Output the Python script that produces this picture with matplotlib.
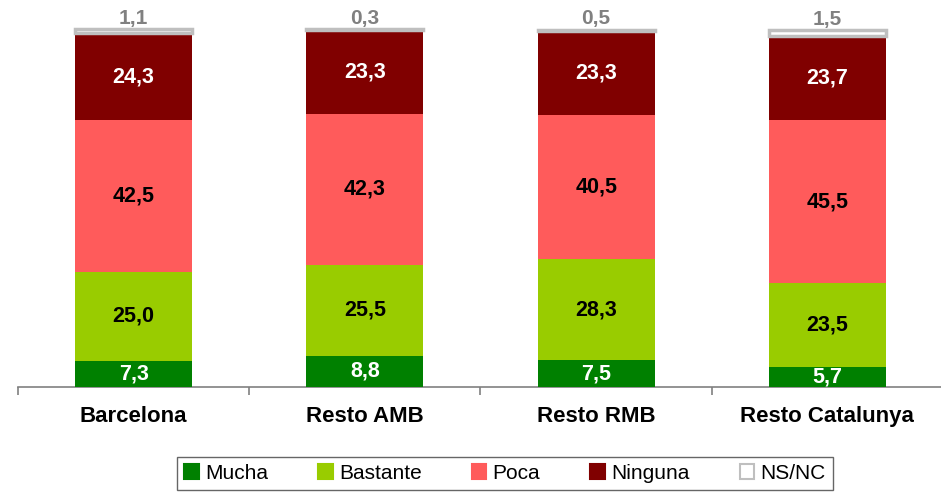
import matplotlib
matplotlib.use("Agg")
import matplotlib.pyplot as plt
from matplotlib.patches import Patch
import numpy as np

plt.rcParams['font.family'] = ['Liberation Sans', 'DejaVu Sans']

categories = ["Barcelona", "Resto AMB", "Resto RMB", "Resto Catalunya"]
series_names = ["Mucha", "Bastante", "Poca", "Ninguna", "NS/NC"]
mucha = [7.3, 8.8, 7.5, 5.7]
bastante = [25.0, 25.5, 28.3, 23.5]
poca = [42.5, 42.3, 40.5, 45.5]
ninguna = [24.3, 23.3, 23.3, 23.7]
nsnc = [1.1, 0.3, 0.5, 1.5]

series = [mucha, bastante, poca, ninguna, nsnc]
colors = ["#008000", "#99CC00", "#FF5B5B", "#800000", "#FFFFFF"]
label_colors = ["white", "black", "black", "white", "#808080"]

W, H = 941, 494
fig = plt.figure(figsize=(W / 100, H / 100), dpi=100)
ax = fig.add_axes([18 / W, (H - 387) / H, 925 / W, 357 / H])

x = np.arange(len(categories))
width = 0.505
bottom = np.zeros(len(categories))
for i, (vals, col) in enumerate(zip(series, colors)):
    vals = np.array(vals)
    if i == 4:
        ax.bar(x, vals, width, bottom=bottom, color=col, edgecolor="#BFBFBF",
               linewidth=2.5, zorder=3, clip_on=False)
    else:
        ax.bar(x, vals, width, bottom=bottom, color=col, edgecolor="none", zorder=3,
               clip_on=False)
    for xi, v, b in zip(x, vals, bottom):
        s = f"{v:.1f}".replace(".", ",")
        if i == 4:
            ax.text(xi, b + v + 0.5, s, ha="center", va="bottom", fontsize=15,
                    fontweight="bold", color=label_colors[i], clip_on=False)
        else:
            ax.text(xi, b + v / 2, s, ha="center", va="center", fontsize=15.5,
                    fontweight="bold", color=label_colors[i], zorder=4)
    bottom += vals

ax.set_xlim(-0.5, len(categories) - 0.5)
ax.set_ylim(0, 100)
for sp in ["top", "right", "left"]:
    ax.spines[sp].set_visible(False)
ax.spines["bottom"].set_color("#808080")
ax.spines["bottom"].set_linewidth(1.2)
ax.set_yticks([])
ax.set_xticks(np.arange(-0.5, len(categories), 1.0))
ax.set_xticklabels([])
ax.tick_params(axis="x", direction="out", length=6, color="#808080", width=1.2)
ax.set_xticks(x, minor=True)
ax.set_xticklabels(categories, minor=True, fontsize=16, fontweight="bold")
ax.tick_params(axis="x", which="minor", length=0, pad=14)

handles = []
for name, col in zip(series_names, colors):
    ec = "#BFBFBF" if name == "NS/NC" else col
    handles.append(Patch(facecolor=col, edgecolor=ec, linewidth=1.5, label=name))
leg = fig.legend(handles=handles, loc="center", ncol=5,
                 bbox_to_anchor=((177 + 833) / 2 / W, 1 - 473.5 / H),
                 frameon=True, fancybox=False, fontsize=15,
                 handlelength=0.7, handleheight=0.7, handletextpad=0.3,
                 columnspacing=2.4, borderpad=0.35, edgecolor="#404040")
leg.get_frame().set_linewidth(1.0)

fig.savefig("out.png", dpi=100)
